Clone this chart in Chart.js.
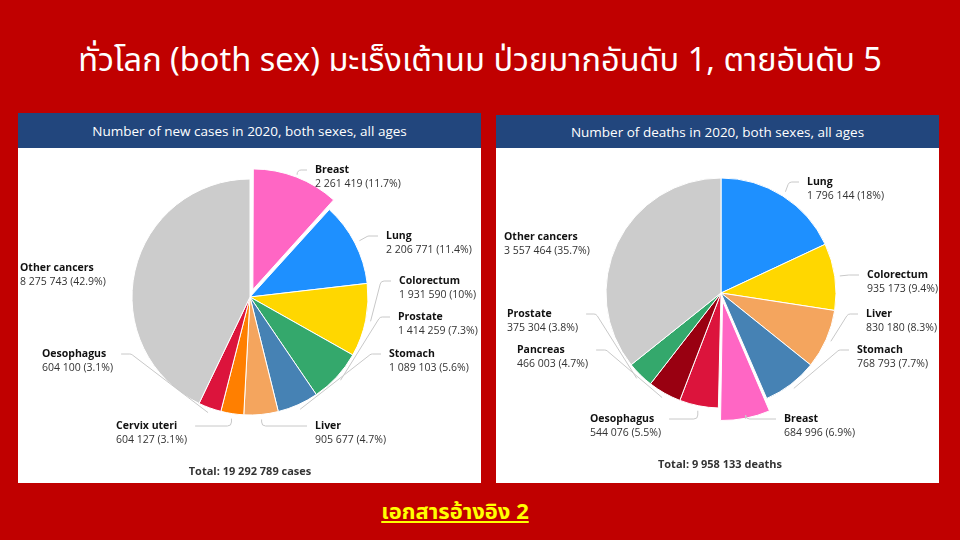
<!DOCTYPE html>
<html lang="th">
<head>
<meta charset="utf-8">
<title>Cancer 2020 both sexes</title>
<script src="https://cdn.jsdelivr.net/npm/chart.js@4.4.1/dist/chart.umd.min.js"></script>
<style>
  html, body { margin: 0; padding: 0; }
  body {
    width: 960px; height: 540px; position: relative; overflow: hidden;
    background: #c00000; font-family: "Open Sans", sans-serif;
  }
  .title {
    position: absolute; left: 0; top: 40px; width: 960px; text-align: center;
    color: #fff; font-size: 32.5px; line-height: 44px;
    font-family: Tahoma, "Noto Sans Thai", "Noto Sans", "DejaVu Sans", sans-serif;
  }
  .panel { position: absolute; background: #fff; }
  .panel .head {
    background: #22467d; color: #fff; text-align: center; font-size: 13.5px;
  }
  .panel canvas { display: block; }
  #p1 { left: 18px; top: 113px; width: 463px; height: 370px; }
  #p1 .head { height: 35px; line-height: 36px; }
  #p2 { left: 496px; top: 115px; width: 443px; height: 368px; }
  #p2 .head { height: 33px; line-height: 34px; }
  .ref {
    position: absolute; left: 0; top: 496px; width: 910px; text-align: center;
    color: #ffff00; font-size: 22px; font-weight: bold; text-decoration: underline;
    font-family: Tahoma, "Noto Sans Thai", "Noto Sans", "DejaVu Sans", sans-serif;
  }
</style>
</head>
<body>
<div class="title">ทั่วโลก (both sex) มะเร็งเต้านม ป่วยมากอันดับ 1, ตายอันดับ 5</div>

<div class="panel" id="p1">
  <div class="head">Number of new cases in 2020, both sexes, all ages</div>
  <canvas id="casesChart" width="463" height="335"></canvas>
</div>
<div class="panel" id="p2">
  <div class="head">Number of deaths in 2020, both sexes, all ages</div>
  <canvas id="deathsChart" width="443" height="335"></canvas>
</div>

<div class="ref">เอกสารอ้างอิง 2</div>

<script>
// data
const casesLabels = ['Breast', 'Lung', 'Colorectum', 'Prostate', 'Stomach', 'Liver', 'Cervix uteri', 'Oesophagus', 'Other cancers'];
const casesValues = [2261419, 2206771, 1931590, 1414259, 1089103, 905677, 604127, 604100, 8275743];

const deathsLabels = ['Lung', 'Colorectum', 'Liver', 'Stomach', 'Breast', 'Oesophagus', 'Pancreas', 'Prostate', 'Other cancers'];
const deathsValues = [1796144, 935173, 830180, 768793, 684996, 544076, 466003, 375304, 3557464];

// colours per cancer site
const siteColors = {
    'Breast': '#ff66c4',
    'Lung': '#1e90ff',
    'Colorectum': '#ffd700',
    'Prostate': '#34a86c',
    'Stomach': '#4682b4',
    'Liver': '#f4a55e',
    'Cervix uteri': '#ff7f00',
    'Oesophagus': '#dc143c',
    'Pancreas': '#990011',
    'Other cancers': '#cccccc'
};

// label placement, offset from pie centre (dx, dy of the name line), third item = no connector
const casesLabelPos = [[65, -127], [136, -61], [149, -16], [148, 20], [139, 57], [65, 129], [-134, 129], [-208, 57], [-230, -29, true]];
const deathsLabelPos = [[86, -111], [146, -18], [145, 21], [136, 57], [63, 126], [-131, 126], [-204, 57], [-214, 21], [-217, -56, true]];

function fmt(n) {
    return n.toString().replace(/\B(?=(\d{3})+(?!\d))/g, ' ');
}

const nameFont = 'bold 10.5px "Open Sans"';
const valueFont = '10.5px "Open Sans"';

const pieLabels = {
    id: 'pieLabels',
    afterDraw(chart, args, opts) {
        const ctx = chart.ctx;
        const meta = chart.getDatasetMeta(0);
        const values = chart.data.datasets[0].data;
        const total = values.reduce((a, b) => a + b, 0);

        ctx.save();
        meta.data.forEach((arc, i) => {
            const pos = opts.positions[i];
            const p = arc.getProps(['x', 'y', 'startAngle', 'endAngle', 'outerRadius'], true);
            const mid = (p.startAngle + p.endAngle) / 2;
            const shift = (arc.options.offset || 0) / 4;
            const r = p.outerRadius + shift + 5;
            const sx = p.x + Math.cos(mid) * r;
            const sy = p.y + Math.sin(mid) * r;

            const lx = p.x + pos[0];
            const ly = p.y + pos[1];
            const name = chart.data.labels[i];
            const pct = Math.round(values[i] / total * 1000) / 10;
            const valText = fmt(values[i]) + ' (' + pct + '%)';

            ctx.font = nameFont;
            const w1 = ctx.measureText(name).width;
            ctx.font = valueFont;
            const w2 = ctx.measureText(valText).width;

            const left = pos[0] < 0;
            const ex = left ? lx + Math.max(w1, w2) + 8 : lx - 8;
            // labels under the pie bend next to the slice, side labels bend next to the text
            const below = pos[1] > p.outerRadius * 0.9;
            const kx = below ? sx : ex + (left ? 10 : -10);

            if (!pos[2]) {
                ctx.strokeStyle = '#c8c8c8';
                ctx.lineWidth = 1;
                ctx.beginPath();
                ctx.moveTo(ex, ly);
                ctx.arcTo(kx, ly, sx, sy, 4);
                ctx.lineTo(sx, sy);
                ctx.stroke();
            }

            ctx.fillStyle = '#111';
            ctx.textAlign = 'left';
            ctx.textBaseline = 'middle';
            ctx.font = nameFont;
            ctx.fillText(name, lx, ly);
            ctx.fillStyle = '#333';
            ctx.font = valueFont;
            ctx.fillText(valText, lx, ly + 14);
        });

        const c = meta.data[0];
        ctx.fillStyle = '#333';
        ctx.textAlign = 'center';
        ctx.font = 'bold 11px "Open Sans"';
        ctx.fillText('Total: ' + fmt(total) + ' ' + opts.unit, c.x + opts.totalDx, c.y + opts.totalDy);
        ctx.restore();
    }
};

function makePie(canvasId, labels, values, explodeLabel, radius, padding, positions, unit, totalDx, totalDy) {
    const ctx = document.getElementById(canvasId).getContext('2d');
    return new Chart(ctx, {
        type: 'pie',
        data: {
            labels: labels,
            datasets: [{
                data: values,
                backgroundColor: labels.map(l => siteColors[l]),
                borderColor: '#ffffff',
                borderWidth: 1,
                offset: labels.map(l => l === explodeLabel ? 32 : 0),
                clip: false
            }]
        },
        options: {
            responsive: false,
            animation: false,
            events: [],
            radius: radius,
            layout: { padding: padding },
            plugins: {
                legend: { display: false },
                tooltip: { enabled: false },
                pieLabels: { positions: positions, unit: unit, totalDx: totalDx, totalDy: totalDy }
            }
        },
        plugins: [pieLabels]
    });
}

makePie('casesChart', casesLabels, casesValues, 'Breast', 118,
    { left: 100, right: 99, top: 20, bottom: 57 }, casesLabelPos, 'cases', 0, 175);
makePie('deathsChart', deathsLabels, deathsValues, 'Breast', 115,
    { left: 100, right: 93, top: 20, bottom: 65 }, deathsLabelPos, 'deaths', -1, 172);
</script>
</body>
</html>
